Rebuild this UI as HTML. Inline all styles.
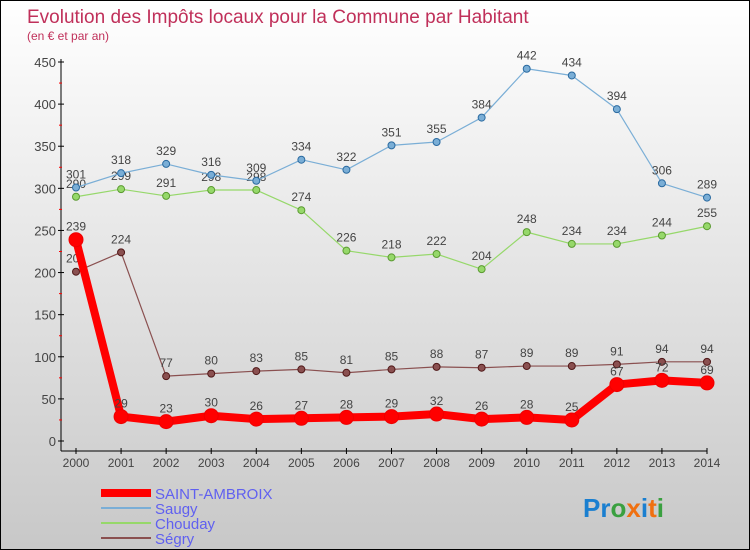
<!DOCTYPE html>
<html><head><meta charset="utf-8"><style>
body{margin:0}
#c{width:748px;height:548px;border:1px solid #000;background:linear-gradient(#fff,#c8c8c8);position:relative;overflow:hidden;font-family:"Liberation Sans",sans-serif}
</style></head><body>
<div id="c">
<svg width="748" height="548" id="svg">
<text x="26" y="22" font-size="19" fill="#c0305a">Evolution des Impôts locaux pour la Commune par Habitant</text>
<text x="26" y="39" font-size="12" fill="#c0305a">(en € et par an)</text>
<g id="axes"></g><g id="series"></g>
<g font-size="15" fill="#6060f0">
<line x1="100" y1="492" x2="150" y2="492" stroke="#f00" stroke-width="8"/>
<text x="154" y="498">SAINT-AMBROIX</text>
<line x1="100" y1="507" x2="150" y2="507" stroke="#7aaed6" stroke-width="2"/>
<text x="154" y="513">Saugy</text>
<line x1="100" y1="522" x2="150" y2="522" stroke="#96d86a" stroke-width="2"/>
<text x="154" y="528">Chouday</text>
<line x1="100" y1="537" x2="150" y2="537" stroke="#8a5050" stroke-width="2"/>
<text x="154" y="543">Ségry</text>
</g>
<text x="582" y="516" font-size="26" font-weight="bold"><tspan fill="#1a7fd0">Pr</tspan><tspan fill="#3aa040">o</tspan><tspan fill="#f07010">x</tspan><tspan fill="#1a7fd0">i</tspan><tspan fill="#f07010">t</tspan><tspan fill="#3aa040">i</tspan></text>
</svg>
</div>
<script>
const years=["2000","2001","2002","2003","2004","2005","2006","2007","2008","2009","2010","2011","2012","2013","2014"];
const yTicks=[0,50,100,150,200,250,300,350,400,450];
const saintAmbroix=[239,29,23,30,26,27,28,29,32,26,28,25,67,72,69];
const saugy=[301,318,329,316,309,334,322,351,355,384,442,434,394,306,289];
const chouday=[290,299,291,298,298,274,226,218,222,204,248,234,234,244,255];
const segry=[201,224,77,80,83,85,81,85,88,87,89,89,91,94,94];
const NS="http://www.w3.org/2000/svg";
const X=i=>75+i*(631/14);
const Y=v=>440-v*(379/450);
function mk(t,a,p){const e=document.createElementNS(NS,t);for(const k in a)e.setAttribute(k,a[k]);p.appendChild(e);return e;}
const ax=document.getElementById('axes');
let e=mk('line',{x1:60,y1:58,x2:60,y2:450,stroke:'#000'},ax);


e=mk('line',{x1:60,y1:450,x2:706,y2:450,stroke:'#000'},ax);


yTicks.forEach(v=>{
 mk('line',{x1:57,y1:Y(v),x2:63,y2:Y(v),stroke:'#000'},ax);
 if(v<450)mk('line',{x1:58,y1:Y(v+25),x2:61,y2:Y(v+25),stroke:'#f00'},ax);
 const t=mk('text',{x:55,y:Y(v)+5,'text-anchor':'end','font-size':13,fill:'#444'},ax);
 t.textContent=v;
 
 
});
years.forEach((y,i)=>{
 mk('line',{x1:X(i),y1:447,x2:X(i),y2:453,stroke:'#000'},ax);
 const t=mk('text',{x:X(i),y:466,'text-anchor':'middle','font-size':12,fill:'#444'},ax);
 t.textContent=y;
 
 
});
const sg=document.getElementById('series');
function draw(vals,color,w,r,name,dark){
 const g=mk('g',{},sg);
 
 
 const l=mk('polyline',{points:vals.map((v,i)=>X(i)+','+Y(v)).join(' '),fill:'none',stroke:color,'stroke-width':w,'stroke-linejoin':'round'},g);
 
 
 vals.forEach((v,i)=>{
  const c=mk('circle',{cx:X(i),cy:Y(v),r:r,fill:color,stroke:dark,'stroke-width':1},g);
  
  
  const t=mk('text',{x:X(i),y:Y(v)-9,'text-anchor':'middle','font-size':12,fill:'#444'},g);
  t.textContent=v;
  
  
 });
}
draw(chouday,'#96d86a',1.2,3.5,'chouday','#5a9a30');
draw(saugy,'#7aaed6',1.2,3.5,'saugy','#2a6aa0');
draw(segry,'#8a5050',1.2,3.5,'segry','#501818');
draw(saintAmbroix,'#f00',8,7,'saint-ambroix','#e00');
</script>
</body></html>
